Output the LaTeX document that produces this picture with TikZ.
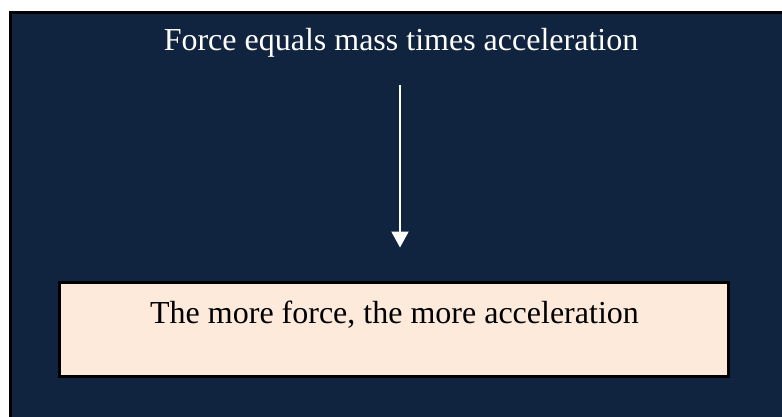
\documentclass[tikz,border=0pt]{standalone}
\usepackage{fontspec}
\setmainfont{Liberation Serif}
\usetikzlibrary{arrows.meta, positioning}
\definecolor{navy}{RGB}{16,36,64}
\definecolor{peach}{RGB}{253,234,218}
\tikzset{flow/.style={white, line width=2pt, -{Triangle[width=17pt,length=16pt]}}}
\tikzset{resultbox/.style={draw=black, line width=3pt, fill=peach, minimum width=669pt, minimum height=94pt}}

\begin{document}
\begin{tikzpicture}[x=1pt, y=-1pt]
\useasboundingbox (0,0) rectangle (782,416);
\clip (0,0) rectangle (782,416);
\fill[white] (0,0) rectangle (782,416);
\draw[line width=3pt, fill=navy] (10.5,12.5) rectangle (800,440);
\node[white, font=\fontsize{32}{38}\selectfont, inner sep=0pt, anchor=base] (title) at (401,50) {Force equals mass times acceleration};
\node[resultbox] (result) at (393.5,329) {};
\node[font=\fontsize{32}{38}\selectfont, inner sep=0pt, anchor=base] (resulttext) at (394.5,323) {The more force, the more acceleration};
\coordinate (arrowtop) at (400,85);
\draw[flow, shorten >=33pt] (arrowtop) -- (arrowtop |- result.north);
\end{tikzpicture}
\end{document}
